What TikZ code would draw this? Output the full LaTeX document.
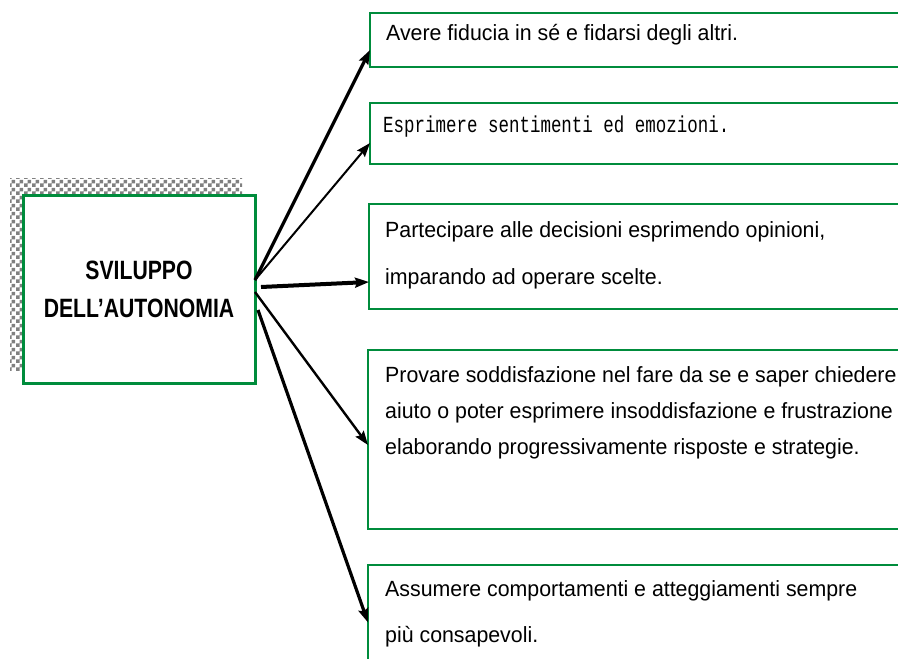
\documentclass[tikz,border=0pt]{standalone}
\usepackage{fontspec}
\setmainfont{Liberation Sans}[FakeStretch=0.97]
\newfontfamily\mainlabelfont[FakeStretch=0.8]{Liberation Sans}
\newfontfamily\narrowmono[FakeStretch=0.76]{Liberation Mono}
\usetikzlibrary{arrows.meta,patterns.meta,positioning}
\definecolor{boxgreen}{RGB}{0,140,60}
\tikzdeclarepattern{
  name=checks,
  type=uncolored,
  bounding box={(0pt,0pt) and (8pt,8pt)},
  tile size={(8pt,8pt)},
  code={
    \pgfpathrectangle{\pgfpointorigin}{\pgfqpoint{4pt}{4pt}}
    \pgfpathrectangle{\pgfqpoint{4pt}{4pt}}{\pgfqpoint{4pt}{4pt}}
    \pgfusepath{fill}
  }
}

\begin{document}
\begin{tikzpicture}
 [x=1pt,y=-1pt,
% Box styles
    main/.style={rectangle,draw=boxgreen,line width=3pt,fill=white,
        minimum width=232pt,minimum height=188pt,align=center,outer sep=0pt,
        font=\mainlabelfont\bfseries\fontsize{26.5}{38}\selectfont},
    box/.style={rectangle,draw=boxgreen,line width=2.6pt,anchor=north west,
        minimum width=560pt,outer sep=0pt},
% Text style (anchored at the baseline of the last line)
    txt/.style={anchor=base west,align=left,inner sep=0pt,
        font=\fontsize{22}{#1}\selectfont},
    txt/.default=36,
% Arrow style
    arr/.style={draw=black,-{Stealth[length=14pt,width=10pt,inset=2pt]}}
    ]
 \useasboundingbox (0,0) rectangle (898,659);
 \clip (0,0) rectangle (898,659);
%% Shadow and main box
 \fill [pattern=checks,pattern color=gray] (10,178) rectangle (242,370);
 \node (m) [main] at (139,289) {SVILUPPO\\DELL’AUTONOMIA};
%% Boxes on the right
 \node (b1) [box,minimum height=54pt]  at (370,13)  {};
 \node (b2) [box,minimum height=61pt]  at (370,103) {};
 \node (b3) [box,minimum height=105pt] at (369,204) {};
 \node (b4) [box,minimum height=179pt] at (368,350) {};
 \node (b5) [box,minimum height=115pt] at (368,565) {};
%% Texts
 \node (t1) [txt] at ([xshift=16,yshift=-27]b1.north west)
    {Avere fiducia in sé e fidarsi degli altri.};
 \node (t2) [txt,font=\narrowmono\fontsize{23}{36}\selectfont]
    at ([xshift=13,yshift=-29]b2.north west)
    {Esprimere sentimenti ed emozioni.};
 \node (t3) [txt=47] at ([xshift=16,yshift=-80]b3.north west)
    {Partecipare alle decisioni esprimendo opinioni,\\
     imparando ad operare scelte.};
 \node (t4) [txt=36] at ([xshift=17,yshift=-104]b4.north west)
    {Provare soddisfazione nel fare da se e saper chiedere\\
     aiuto o poter esprimere insoddisfazione e frustrazione\\
     elaborando progressivamente risposte e strategie.};
 \node (t5) [txt=46] at ([xshift=17,yshift=-77]b5.north west)
    {Assumere comportamenti e atteggiamenti sempre\\
     più consapevoli.};
%% Arrows
 \draw [arr,line width=3.2pt] ([yshift=9]m.east) -- ([yshift=-10]b1.west);
 \draw [arr,line width=2pt]   ([yshift=9]m.east) -- ([yshift=-9.5]b2.west);
 \draw [arr,line width=4pt]   ([xshift=6,yshift=2]m.east) -- ([yshift=-25.5]b3.west);
 \draw [arr,line width=2.4pt] ([yshift=-3]m.east) -- ([yshift=-5.5]b4.west);
 \draw [arr,line width=3.2pt] ([xshift=3,yshift=-21]m.east) -- (b5.west);
\end{tikzpicture}
\end{document}
